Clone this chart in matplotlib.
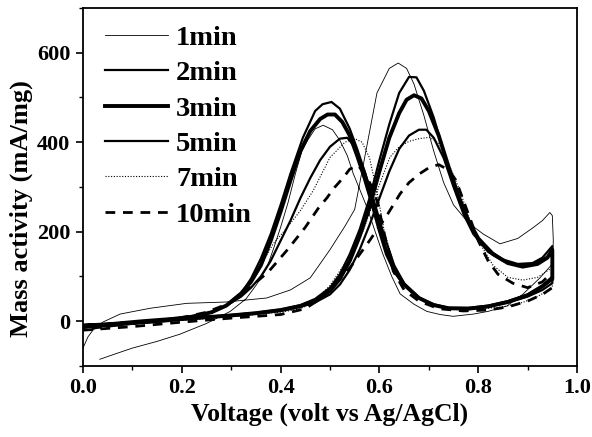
import matplotlib
matplotlib.use("Agg")
import matplotlib.pyplot as plt
from matplotlib.ticker import MultipleLocator

plt.rcParams['font.family'] = ['Liberation Serif', 'DejaVu Serif']
plt.rcParams['font.weight'] = 'bold'

# 1 min - thin solid (forward scan then backward scan)
v_1min = [0.0, 0.01, 0.02, 0.04, 0.075, 0.136, 0.21, 0.29, 0.372, 0.42, 0.46, 0.50, 0.53, 0.55,
          0.57, 0.595, 0.62, 0.638, 0.655, 0.67, 0.69, 0.71, 0.73, 0.75, 0.78, 0.81, 0.844, 0.88,
          0.911, 0.93, 0.945, 0.95,
          0.952, 0.95, 0.925, 0.89, 0.858, 0.82, 0.79, 0.749, 0.723, 0.696, 0.67, 0.642, 0.625,
          0.607, 0.59, 0.575, 0.56, 0.547, 0.535, 0.52, 0.505, 0.486, 0.47, 0.455, 0.443, 0.43,
          0.415, 0.40, 0.385, 0.372, 0.35, 0.33, 0.298, 0.25, 0.196, 0.15, 0.10, 0.06, 0.034]
i_1min = [-60, -35, -20, -2, 16, 29, 40, 43, 52, 70, 97, 160, 212, 250,
          365, 510, 565, 577, 565, 530, 460, 380, 310, 260, 220, 195, 173, 185,
          209, 225, 243, 236,
          180, 128, 97, 60, 34, 22, 16, 11, 15, 22, 38, 61, 100,
          150, 205, 254, 295, 330, 370, 404, 428, 438, 430, 405, 380, 330,
          265, 210, 160, 119, 80, 50, 22, -5, -29, -45, -60, -75, -85]

# 2 min - medium solid
v_2min = [0.0, 0.05, 0.10, 0.15, 0.20, 0.25, 0.30, 0.35, 0.40, 0.44, 0.47, 0.50, 0.52, 0.54,
          0.56, 0.58, 0.60, 0.62, 0.64, 0.66, 0.675, 0.69, 0.71, 0.73, 0.75, 0.77, 0.79, 0.82,
          0.85, 0.88, 0.91, 0.93, 0.95,
          0.95, 0.93, 0.90, 0.86, 0.82, 0.78, 0.74, 0.71, 0.68, 0.65, 0.63, 0.615, 0.60, 0.585,
          0.57, 0.555, 0.54, 0.52, 0.503, 0.485, 0.47, 0.445, 0.42, 0.40, 0.38, 0.36, 0.34,
          0.32, 0.29, 0.26, 0.22, 0.18, 0.12, 0.06, 0.0]
i_2min = [-12, -10, -5, 0, 5, 10, 14, 19, 26, 36, 50, 75, 105, 150,
          205, 275, 360, 440, 510, 546, 545, 515, 455, 380, 305, 245, 200, 160,
          138, 128, 130, 142, 168,
          100, 80, 60, 45, 35, 30, 30, 38, 52, 80, 110, 155, 215, 280,
          335, 385, 430, 475, 490, 485, 470, 410, 330, 260, 195, 140, 95,
          62, 35, 20, 10, 5, 0, -8, -12]

# 3 min - thick solid
v_3min = [0.0, 0.05, 0.10, 0.15, 0.20, 0.25, 0.30, 0.35, 0.40, 0.44, 0.47, 0.50, 0.52, 0.54,
          0.56, 0.58, 0.60, 0.62, 0.64, 0.655, 0.67, 0.685, 0.70, 0.72, 0.74, 0.76, 0.78, 0.80,
          0.83, 0.86, 0.89, 0.92, 0.94, 0.95,
          0.95, 0.93, 0.90, 0.86, 0.82, 0.78, 0.74, 0.71, 0.68, 0.65, 0.63, 0.615, 0.60, 0.585,
          0.57, 0.555, 0.54, 0.525, 0.51, 0.495, 0.48, 0.46, 0.44, 0.42, 0.40, 0.38, 0.36,
          0.34, 0.32, 0.29, 0.26, 0.22, 0.18, 0.12, 0.06, 0.0]
i_3min = [-10, -8, -4, 0, 5, 9, 13, 18, 25, 34, 46, 68, 95, 135,
          190, 255, 335, 410, 465, 495, 505, 498, 470, 415, 345, 280, 225, 185,
          150, 130, 122, 128, 142, 160,
          95, 78, 58, 43, 33, 28, 29, 36, 52, 82, 115, 150, 205, 265,
          320, 370, 415, 445, 462, 462, 452, 425, 380, 315, 245, 180, 125,
          88, 62, 35, 20, 10, 5, 0, -6, -10]

# 5 min - medium solid
v_5min = [0.0, 0.05, 0.10, 0.15, 0.20, 0.25, 0.30, 0.35, 0.40, 0.44, 0.47, 0.50, 0.52, 0.54,
          0.56, 0.58, 0.60, 0.62, 0.64, 0.66, 0.68, 0.695, 0.71, 0.73, 0.75, 0.77, 0.79, 0.82,
          0.85, 0.88, 0.91, 0.93, 0.95,
          0.95, 0.93, 0.90, 0.86, 0.82, 0.78, 0.74, 0.71, 0.68, 0.65, 0.63, 0.61, 0.59, 0.57,
          0.55, 0.535, 0.52, 0.50, 0.48, 0.46, 0.44, 0.42, 0.40, 0.38, 0.36, 0.34, 0.32,
          0.29, 0.26, 0.22, 0.18, 0.12, 0.06, 0.0]
i_5min = [-14, -10, -5, 0, 4, 8, 12, 17, 23, 32, 42, 60, 82, 115,
          160, 215, 275, 335, 385, 415, 428, 428, 410, 365, 300, 240, 195, 155,
          135, 125, 126, 138, 150,
          85, 70, 55, 42, 33, 28, 29, 36, 52, 85, 125, 190, 265, 335,
          390, 410, 408, 390, 360, 320, 275, 225, 180, 135, 100, 75, 55,
          35, 20, 10, 4, -2, -8, -14]

# 7 min - dotted
v_7min = [0.0, 0.10, 0.20, 0.30, 0.40, 0.44, 0.47, 0.50, 0.534, 0.567, 0.601, 0.621, 0.64,
          0.66, 0.68, 0.702, 0.72, 0.737, 0.763, 0.78, 0.80, 0.83, 0.86, 0.89, 0.92, 0.95,
          0.95, 0.92, 0.89, 0.85, 0.80, 0.75, 0.71, 0.68, 0.65, 0.63, 0.61, 0.595, 0.58,
          0.565, 0.55, 0.53, 0.50, 0.466, 0.44, 0.41, 0.385, 0.36, 0.344, 0.318, 0.29, 0.25,
          0.20, 0.12, 0.06, 0.0]
i_7min = [-15, -6, 2, 10, 20, 28, 45, 80, 135, 202, 308, 366, 390,
          402, 408, 411, 398, 360, 292, 235, 180, 125, 98, 92, 98, 120,
          75, 55, 42, 32, 27, 27, 35, 52, 85, 125, 200, 290, 365,
          400, 408, 400, 366, 292, 247, 205, 173, 125, 97, 55, 32, 18,
          8, 0, -8, -15]

# 10 min - dashed
v_10min = [0.0, 0.10, 0.20, 0.30, 0.40, 0.45, 0.48, 0.504, 0.54, 0.58, 0.617, 0.642, 0.66,
           0.682, 0.70, 0.72, 0.74, 0.755, 0.77, 0.785, 0.80, 0.82, 0.84, 0.87, 0.90, 0.93, 0.95,
           0.95, 0.93, 0.90, 0.86, 0.82, 0.77, 0.72, 0.68, 0.65, 0.628, 0.607, 0.597, 0.585,
           0.57, 0.557, 0.54, 0.527, 0.51, 0.494, 0.476, 0.45, 0.414, 0.375, 0.33, 0.30, 0.25,
           0.20, 0.12, 0.06, 0.0]
i_10min = [-20, -12, -2, 7, 15, 28, 50, 74, 119, 180, 240, 285, 310,
           330, 343, 350, 338, 315, 270, 225, 180, 135, 105, 85, 75, 88, 110,
           75, 60, 45, 32, 25, 23, 28, 45, 70, 112, 209, 263, 300,
           330, 348, 340, 321, 300, 276, 252, 210, 160, 110, 68, 42, 20,
           8, -2, -10, -18]

fig = plt.figure(figsize=(5.92, 4.37), dpi=100)
ax = fig.add_axes([0.1402, 0.1625, 0.8345, 0.8192])

ax.plot(v_1min, i_1min, color='black', lw=0.6, label='1min')
ax.plot(v_2min, i_2min, color='black', lw=1.6, label='2min')
ax.plot(v_3min, i_3min, color='black', lw=2.8, label='3min')
ax.plot(v_5min, i_5min, color='black', lw=1.6, label='5min')
ax.plot(v_7min, i_7min, color='black', lw=0.8, linestyle=(0, (1, 1.5)), label='7min')
ax.plot(v_10min, i_10min, color='black', lw=2.0, linestyle=(0, (3.5, 2.8)), label='10min')

ax.set_xlim(0, 1.0)
ax.set_ylim(-100, 700)
ax.xaxis.set_minor_locator(MultipleLocator(0.1))
ax.yaxis.set_minor_locator(MultipleLocator(100))
ax.set_xticks([0.0, 0.2, 0.4, 0.6, 0.8, 1.0])
ax.set_xticklabels(['0.0', '0.2', '0.4', '0.6', '0.8', '1.0'])
ax.set_yticks([0, 200, 400, 600])
ax.tick_params(which='major', direction='out', length=5, width=1.2, labelsize=16, pad=4)
ax.tick_params(which='minor', direction='out', length=3, width=1.0)
for s in ax.spines.values():
    s.set_linewidth(1.3)

ax.set_xlabel('Voltage (volt vs Ag/AgCl)', fontsize=18.5, fontweight='bold', labelpad=3)
ax.set_ylabel('Mass activity (mA/mg)', fontsize=19, fontweight='bold')
ax.yaxis.set_label_coords(-0.101, 0.44)

leg = ax.legend(loc='upper left', frameon=False, fontsize=20.5, handlelength=2.2,
                handletextpad=0.3, labelspacing=0.33, borderaxespad=0.2,
                bbox_to_anchor=(0.01, 1.0))

fig.savefig('out.png', dpi=100)
